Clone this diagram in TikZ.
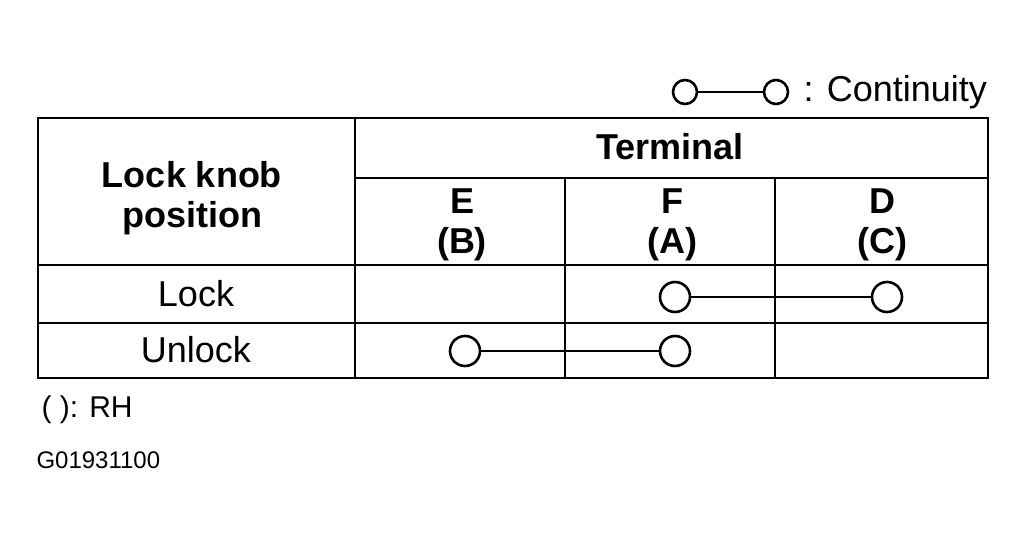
\documentclass[tikz,border=0pt]{standalone}
\usepackage{fontspec}
\setmainfont{Liberation Sans}
\usetikzlibrary{positioning}
\begin{document}
\begin{tikzpicture}[x=1pt,y=-1pt,
    grid/.style={line width=2.8pt},
    cell/.style={font=\fontsize{36}{40}\selectfont},
    head/.style={font=\fontsize{36}{40}\selectfont\bfseries, align=center},
    pin/.style={circle, draw, line width=2.6pt, minimum size=30pt, inner sep=0pt},
    link/.style={line width=2.4pt},
  ]
  \useasboundingbox (0,0) rectangle (1025,543);
  %Table
  \draw[grid] (38,118) rectangle (988,378);
  \draw[grid] (355,118) -- (355,378);
  \draw[grid] (355,178) -- (988,178);
  \draw[grid] (38,265) -- (988,265);
  \draw[grid] (38,323) -- (988,323);
  \draw[grid] (565,178) -- (565,378);
  \draw[grid] (775,178) -- (775,378);
  %Headers
  \node[head] (knob) at (192,198) {Lock knob\\position};
  \node[head] (term) at (670,147) {Terminal};
  \node[head] (colE) at (462,225) {E\\(B)};
  \node[head] (colF) at (672,225) {F\\(A)};
  \node[head] (colD) at (882,225) {D\\(C)};
  \node[cell] (lock) at (196,294) {Lock};
  \node[cell] (unlock) at (196,350) {Unlock};
  %Continuity
  \node[pin] (lockF) at (675,297) {};
  \node[pin] (lockD) at (887,297) {};
  \draw[link] (lockF) -- (lockD);
  \node[pin] (unlockE) at (465,351) {};
  \node[pin] (unlockF) at (675,351) {};
  \draw[link] (unlockE) -- (unlockF);
  %Legend
  \node[pin, minimum size=24pt] (keyA) at (685,92) {};
  \node[pin, minimum size=24pt] (keyB) at (776,92) {};
  \draw[link] (keyA) -- (keyB);
  \node[cell, anchor=west] (keytext) at (800,92) {: Continuity};
  \node[cell, anchor=west, font=\fontsize{30}{34}\selectfont] (rh) at (38,410) {( ): RH};
  \node[anchor=west, font=\fontsize{24}{28}\selectfont] (code) at (33,460) {G01931100};
\end{tikzpicture}
\end{document}
